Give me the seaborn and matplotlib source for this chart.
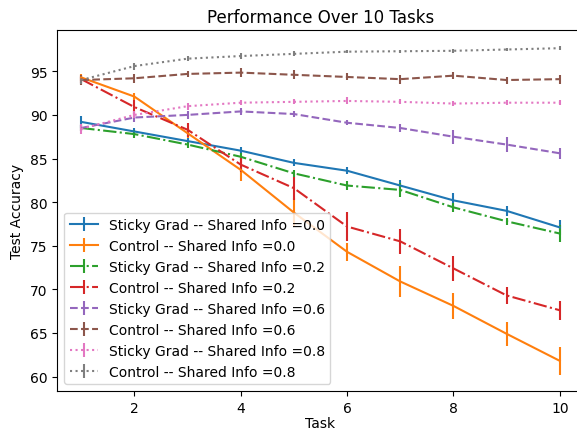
import matplotlib
matplotlib.use("Agg")
import matplotlib.pyplot as plt
import seaborn as sns

tasks = [1, 2, 3, 4, 5, 6, 7, 8, 9, 10]

sticky_00 = [89.2, 88.1, 87.0, 85.9, 84.5, 83.6, 81.9, 80.2, 79.0, 77.1]
sticky_00_err = [0.7, 0.4, 0.4, 0.4, 0.4, 0.4, 0.6, 0.8, 0.6, 0.9]
control_00 = [94.3, 92.1, 87.9, 83.7, 78.8, 74.3, 70.9, 68.1, 64.9, 61.8]
control_00_err = [0.4, 0.4, 0.6, 1.3, 1.7, 1.0, 1.8, 1.5, 1.4, 1.6]
sticky_02 = [88.5, 87.8, 86.6, 85.2, 83.3, 81.9, 81.4, 79.4, 77.8, 76.4]
sticky_02_err = [0.4, 0.5, 0.4, 0.4, 0.4, 0.5, 0.8, 0.5, 0.4, 1.0]
control_02 = [94.1, 90.9, 88.3, 84.3, 81.6, 77.2, 75.5, 72.4, 69.3, 67.6]
control_02_err = [0.4, 0.8, 0.8, 0.8, 1.3, 1.7, 1.4, 1.4, 1.0, 1.1]
sticky_06 = [88.5, 89.7, 90.0, 90.4, 90.1, 89.1, 88.5, 87.5, 86.6, 85.6]
sticky_06_err = [0.4, 0.5, 0.5, 0.4, 0.3, 0.3, 0.5, 0.8, 0.9, 0.6]
control_06 = [94.0, 94.2, 94.7, 94.85, 94.6, 94.35, 94.1, 94.5, 94.0, 94.1]
control_06_err = [0.6, 0.5, 0.3, 0.5, 0.5, 0.4, 0.5, 0.4, 0.4, 0.5]
sticky_08 = [88.4, 90.0, 91.0, 91.4, 91.5, 91.6, 91.5, 91.3, 91.4, 91.4]
sticky_08_err = [0.6, 0.4, 0.4, 0.3, 0.3, 0.4, 0.3, 0.3, 0.3, 0.3]
control_08 = [94.0, 95.6, 96.45, 96.75, 97.0, 97.25, 97.3, 97.35, 97.5, 97.65]
control_08_err = [0.4, 0.4, 0.3, 0.3, 0.3, 0.2, 0.2, 0.2, 0.2, 0.2]

series = [
    ("Sticky Grad -- Shared Info =0.0", sticky_00, sticky_00_err, "-"),
    ("Control -- Shared Info =0.0", control_00, control_00_err, "-"),
    ("Sticky Grad -- Shared Info =0.2", sticky_02, sticky_02_err, "-."),
    ("Control -- Shared Info =0.2", control_02, control_02_err, "-."),
    ("Sticky Grad -- Shared Info =0.6", sticky_06, sticky_06_err, "--"),
    ("Control -- Shared Info =0.6", control_06, control_06_err, "--"),
    ("Sticky Grad -- Shared Info =0.8", sticky_08, sticky_08_err, ":"),
    ("Control -- Shared Info =0.8", control_08, control_08_err, ":"),
]

colors = sns.color_palette("tab10", 8)

fig, ax = plt.subplots(figsize=(5.77, 4.31), dpi=100)
for (label, vals, err, ls), c in zip(series, colors):
    ax.errorbar(tasks, vals, yerr=err, label=label, linestyle=ls, color=c)

ax.set_title("Performance Over 10 Tasks")
ax.set_xlabel("Task", labelpad=1)
ax.set_ylabel("Test Accuracy")
ax.legend(loc="lower left")
# the original image is cut off at the right, so the axes run past the edge
fig.subplots_adjust(left=0.0993, right=1.0116, top=0.928, bottom=0.09)
fig.savefig("out.png")
